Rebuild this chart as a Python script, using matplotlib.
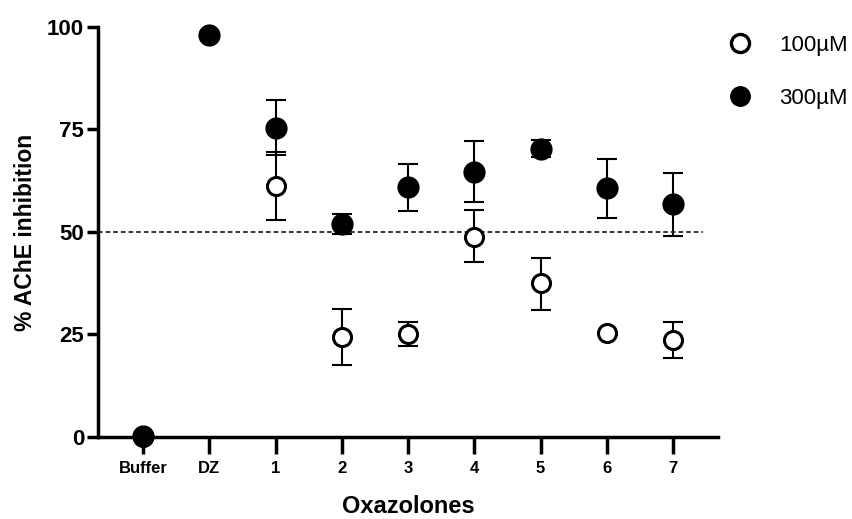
import numpy as np
import matplotlib.pyplot as plt
from matplotlib.lines import Line2D

plt.rcParams['font.family'] = ['Liberation Sans', 'DejaVu Sans']

groups = ['Buffer', 'DZ', '1', '2', '3', '4', '5', '6', '7']

# 100 uM (open circles); None = not shown
m100 = [0.0, None, 61.2, 24.5, 25.1, 48.8, 37.5, 25.4, 23.7]
hi100 = [0.0, None, 69.6, 31.3, 28.0, 55.3, 43.7, 25.4, 28.0]
lo100 = [0.0, None, 53.0, 17.6, 22.3, 42.7, 31.0, 25.4, 19.3]

# 300 uM (filled circles)
m300 = [0.3, 98.0, 75.4, 52.0, 61.0, 64.6, 70.2, 60.7, 56.8]
hi300 = [0.3, 98.0, 82.2, 54.3, 66.7, 72.1, 72.4, 67.8, 64.4]
lo300 = [0.3, 98.0, 68.8, 49.5, 55.2, 57.4, 68.4, 53.5, 49.0]

threshold = 50

fig = plt.figure(figsize=(8.53, 5.19), dpi=100)
ax = fig.add_axes([0.1149, 0.158, 0.727, 0.79])

x = np.arange(len(groups))

def draw(means, his, los, filled):
    idx = [i for i, v in enumerate(means) if v is not None]
    xs = x[idx]
    ys = np.array([means[i] for i in idx])
    err = np.array([[means[i] - los[i] for i in idx], [his[i] - means[i] for i in idx]])
    ax.errorbar(xs, ys, yerr=err, fmt='none', ecolor='black', elinewidth=1.5,
                capsize=7, capthick=1.5, clip_on=False, zorder=3)
    if filled:
        ax.plot(xs, ys, 'o', ms=14.5, mfc='black', mec='black', mew=1.5,
                ls='none', clip_on=False, zorder=4)
    else:
        ax.plot(xs, ys, 'o', ms=13, mfc='white', mec='black', mew=2.2,
                ls='none', clip_on=False, zorder=4)

draw(m100, hi100, lo100, False)
draw(m300, hi300, lo300, True)

ax.hlines(threshold, -0.68, 8.45, colors='black', linestyles=(0, (3, 2)), lw=1.1, zorder=1)

ax.set_xlim(-0.68, 8.68)
ax.set_ylim(0, 100)
ax.set_yticks([0, 25, 50, 75, 100])
ax.set_xticks(x)
ax.set_xticklabels(groups, fontsize=12, fontweight='bold')
for lab in ax.get_yticklabels():
    lab.set_fontsize(16)
    lab.set_fontweight('bold')

for s in ['top', 'right']:
    ax.spines[s].set_visible(False)
for s in ['left', 'bottom']:
    ax.spines[s].set_linewidth(2.5)
ax.tick_params(axis='y', length=8, width=2.5, pad=2)
ax.tick_params(axis='x', length=12, width=2.5, pad=5)

ax.set_ylabel('% AChE inhibition', fontsize=16.5, fontweight='bold', labelpad=7)
ax.set_xlabel('Oxazolones', fontsize=17, fontweight='bold', labelpad=14)

handles = [
    Line2D([], [], marker='o', ls='none', ms=13, mfc='white', mec='black', mew=2.4),
    Line2D([], [], marker='o', ls='none', ms=14, mfc='black', mec='black'),
]
fig.legend(handles, ['100\u00b5M', '300\u00b5M'], loc='upper left',
           bbox_to_anchor=(0.829, 0.971), frameon=False, fontsize=16,
           labelspacing=1.45, handletextpad=1.15, handlelength=1.2)

fig.savefig('out.png', dpi=100)
